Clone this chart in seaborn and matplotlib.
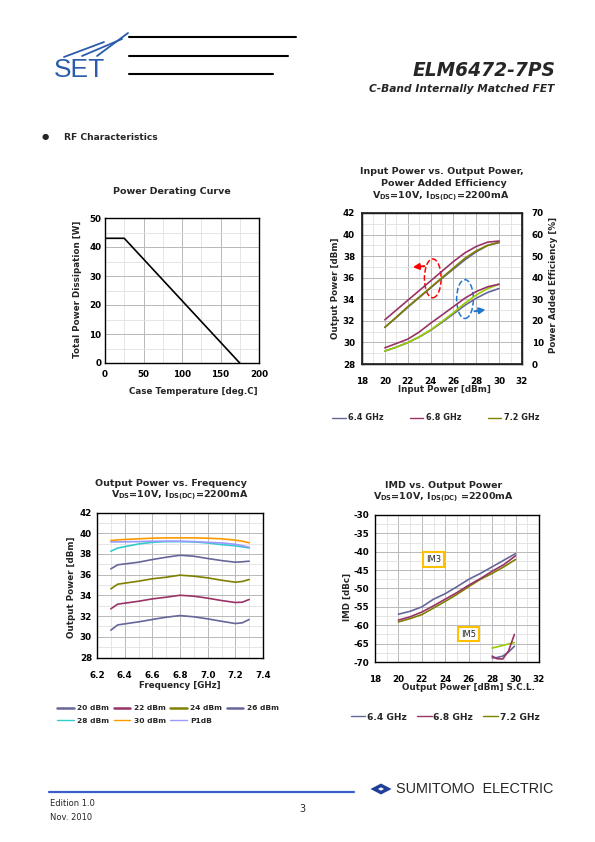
import matplotlib
matplotlib.use('Agg')
import numpy as np
import pandas as pd
import seaborn as sns
import matplotlib.pyplot as plt
from matplotlib.lines import Line2D
from matplotlib.patches import Ellipse, Polygon
from matplotlib.ticker import MultipleLocator, FormatStrFormatter

# power derating curve
case_temp = [0, 25, 175]
power_diss = [43, 43, 0]

# input power vs output power / PAE
pin = [20, 21, 22, 23, 24, 25, 26, 27, 28, 29, 30]
pout_64 = [31.4, 32.3, 33.25, 34.15, 35.05, 35.95, 36.8, 37.65, 38.4, 39.0, 39.25]
pout_68 = [32.1, 33.0, 33.9, 34.8, 35.7, 36.6, 37.5, 38.3, 38.9, 39.3, 39.4]
pout_72 = [31.4, 32.35, 33.3, 34.2, 35.1, 36.0, 36.9, 37.8, 38.5, 39.0, 39.3]
pae_64 = [6.0, 7.8, 9.9, 12.5, 15.6, 19.3, 23.2, 27.2, 30.5, 33.2, 35.0]
pae_68 = [7.5, 9.5, 11.5, 14.8, 18.9, 22.7, 26.6, 30.5, 33.6, 35.8, 37.0]
pae_72 = [6.0, 7.8, 9.9, 12.6, 15.8, 19.7, 23.8, 28.2, 32.0, 35.0, 37.0]

# output power vs frequency
freq = [6.30, 6.35, 6.50, 6.60, 6.70, 6.80, 6.90, 7.00, 7.10, 7.20, 7.25, 7.30]
level_names = ['20 dBm', '22 dBm', '24 dBm', '26 dBm', '28 dBm', '30 dBm', 'P1dB']
p_20 = [30.64, 31.15, 31.44, 31.67, 31.89, 32.05, 31.93, 31.73, 31.50, 31.28, 31.35, 31.67]
p_22 = [32.70, 33.15, 33.43, 33.66, 33.82, 34.01, 33.92, 33.73, 33.50, 33.31, 33.34, 33.60]
p_24 = [34.63, 35.08, 35.37, 35.60, 35.75, 35.95, 35.85, 35.69, 35.46, 35.27, 35.34, 35.53]
p_26 = [36.56, 36.95, 37.20, 37.46, 37.68, 37.87, 37.78, 37.56, 37.36, 37.20, 37.24, 37.30]
p_28 = [38.26, 38.57, 38.96, 39.12, 39.19, 39.19, 39.16, 39.06, 38.90, 38.78, 38.68, 38.58]
p_30 = [39.29, 39.36, 39.46, 39.52, 39.55, 39.55, 39.55, 39.52, 39.46, 39.33, 39.23, 39.07]
p_1db = [39.16, 39.16, 39.19, 39.23, 39.23, 39.23, 39.19, 39.12, 39.06, 38.93, 38.80, 38.64]

# IMD vs output power
im_pout = [20, 21, 22, 23, 24, 25, 26, 27, 28, 29, 30]
im3_64 = [-57.0, -56.2, -55.0, -52.9, -51.4, -49.5, -47.5, -45.9, -44.1, -42.3, -40.5]
im3_68 = [-58.6, -57.7, -56.4, -54.7, -52.9, -51.1, -49.1, -47.3, -45.3, -43.5, -41.1]
im3_72 = [-59.1, -58.2, -57.1, -55.3, -53.5, -51.6, -49.5, -47.5, -45.9, -44.1, -42.1]
im5_pout = [28.0, 28.4, 28.9, 29.4, 29.9]
im5_64 = [-68.9, -68.8, -68.4, -67.3, -65.7]
im5_68 = [-68.4, -69.1, -69.2, -67.0, -62.5]
im5_72 = [-66.2, -65.9, -65.5, -65.1, -64.7]

C64, C68, C72, C72B = '#666699', '#993366', '#808000', '#99cc00'
level_colors = {'20 dBm': '#666699', '22 dBm': '#993366', '24 dBm': '#808000',
                '26 dBm': '#666699', '28 dBm': '#33cccc', '30 dBm': '#ff9900',
                'P1dB': '#9999ff'}

sns.set_theme(style='white')
plt.rcParams.update({
    'font.family': ['DejaVu Sans'],
    'font.weight': 'bold',
    'axes.labelweight': 'bold',
    'axes.unicode_minus': False,
    'mathtext.fontset': 'dejavusans',
    'mathtext.default': 'bf',
})

W, H = 595, 842
fig = plt.figure(figsize=(5.95, 8.42), dpi=100)


def fx(x):
    return x / W


def fy(y):
    return 1 - y / H


def px_box(l, t, r, b):
    return [l / W, 1 - b / H, (r - l) / W, (b - t) / H]


def dress(ax, xmaj, xmin, ymaj, ymin, xpad, ypad):
    ax.xaxis.set_major_locator(MultipleLocator(xmaj))
    ax.xaxis.set_minor_locator(MultipleLocator(xmin))
    ax.yaxis.set_major_locator(MultipleLocator(ymaj))
    ax.yaxis.set_minor_locator(MultipleLocator(ymin))
    ax.grid(True, which='major', color='#b8b8b8', lw=0.7)
    ax.grid(True, which='minor', color='#e0e0e0', lw=0.6)
    ax.set_axisbelow(True)
    for sp in ax.spines.values():
        sp.set_visible(True)
        sp.set_color('black')
        sp.set_linewidth(1.0)
    ax.tick_params(which='both', length=0, labelsize=6.3, colors='black')
    ax.tick_params(axis='x', pad=xpad)
    ax.tick_params(axis='y', pad=ypad)


def put_label(axis, text, x, y, size=6.3):
    axis.set_label_text(text, fontsize=size, fontweight='bold')
    axis.set_label_coords(fx(x), fy(y), transform=fig.transFigure)
    axis.label.set_va('center')


def title_line(text, x, y, size=6.8):
    fig.text(fx(x), fy(y), text, ha='center', va='center', fontsize=size,
             fontweight='bold')


# ---------------- header ----------------
for (x0, x1, y) in [(129, 296, 37), (129, 288, 55.5), (129, 273, 74)]:
    fig.add_artist(Line2D([fx(x0), fx(x1)], [fy(y), fy(y)], color='black', lw=1.5))
fig.text(fx(54), fy(77), 'SET', fontsize=19, color='#2a5cab', fontweight='normal',
         family='Liberation Sans', ha='left', va='baseline')
# slanted strokes of the logo
for (x0, y0, x1, y1) in [(64, 57, 104, 42), (82, 56, 122, 39), (97, 56, 128, 33)]:
    fig.add_artist(Line2D([fx(x0), fx(x1)], [fy(y0), fy(y1)], color='#2a5cab', lw=1.3))
fig.text(fx(555), fy(71), 'ELM6472-7PS', fontsize=13.4, fontweight='bold',
         style='italic', ha='right', va='center')
fig.text(fx(554), fy(89), 'C-Band Internally Matched FET', fontsize=7.7,
         fontweight='bold', style='italic', ha='right', va='center')
fig.text(fx(45), fy(137), '\u25cf', fontsize=6, ha='center', va='center')
fig.text(fx(64), fy(137), 'RF Characteristics', fontsize=6.6, fontweight='bold',
         ha='left', va='center')

# ---------------- power derating ----------------
ax1 = fig.add_axes(px_box(105, 218, 259, 363))
sns.lineplot(x=case_temp, y=power_diss, color='black', lw=1.2, ax=ax1)
ax1.set_xlim(0, 200)
ax1.set_ylim(0, 50)
dress(ax1, 50, 25, 10, 5, 5, 2.5)
put_label(ax1.yaxis, 'Total Power Dissipation [W]', 78, 289)
put_label(ax1.xaxis, 'Case Temperature [deg.C]', 193, 392)
title_line('Power Derating Curve', 171.5, 192)

# ---------------- pin vs pout / pae ----------------
ax2 = fig.add_axes(px_box(362, 213, 522, 364))
for y, c in [(pout_64, C64), (pout_72, C72), (pout_68, C68)]:
    sns.lineplot(x=pin, y=y, color=c, lw=1.2, ax=ax2)
ax2.set_xlim(18, 32)
ax2.set_ylim(28, 42)
dress(ax2, 2, 1, 2, 1, 9, 5)
ax2r = ax2.twinx()
for y, c in [(pae_64, C64), (pae_72, C72B), (pae_68, C68)]:
    sns.lineplot(x=pin, y=y, color=c, lw=1.2, ax=ax2r)
ax2r.set_ylim(0, 70)
ax2r.yaxis.set_major_locator(MultipleLocator(10))
ax2r.tick_params(length=0, labelsize=6.3, pad=7, colors='black')
ax2r.grid(False)
put_label(ax2.yaxis, 'Output Power [dBm]', 335, 288)
put_label(ax2r.yaxis, 'Power Added Efficiency [%]', 553, 285)
put_label(ax2.xaxis, 'Input Power [dBm]', 444, 390)
title_line('Input Power vs. Output Power,', 442, 172)
title_line('Power Added Efficiency', 444, 183.5)
title_line('V$_{DS}$=10V, I$_{DS(DC)}$=2200mA', 441, 196)

ax2.add_patch(Ellipse((24.19, 35.94), 1.46, 3.6, fill=False, ec='red', ls='--', lw=1.1))
ax2.annotate('', xy=(22.2, 36.96), xytext=(23.7, 37.1),
             arrowprops=dict(arrowstyle='-|>', color='red', lw=1.4, mutation_scale=9))
ax2.add_patch(Ellipse((27.01, 34.02), 1.46, 3.6, fill=False, ec='#1f77d0', ls='--', lw=1.1))
ax2.annotate('', xy=(29.05, 33.07), xytext=(27.6, 32.85),
             arrowprops=dict(arrowstyle='-|>', color='#1f77d0', lw=1.4, mutation_scale=9))

h2 = [Line2D([], [], color=c, lw=1.0) for c in (C64, C68, C72)]
ax2.legend(h2, ['6.4 GHz', '6.8 GHz', '7.2 GHz'], ncol=3, loc='center',
           bbox_to_anchor=(fx(436), fy(418)), bbox_transform=fig.transFigure,
           frameon=False, fontsize=5.9, handlelength=1.6, handletextpad=0.35,
           columnspacing=3.2)

# ---------------- pout vs frequency ----------------
series = [p_20, p_22, p_24, p_26, p_28, p_30, p_1db]
freq_df = pd.DataFrame({
    'freq': freq * len(series),
    'pout': sum(series, []),
    'level': [n for n in level_names for _ in freq],
})
ax3 = fig.add_axes(px_box(97, 512.5, 263, 657.5))
sns.lineplot(data=freq_df, x='freq', y='pout', hue='level', hue_order=level_names,
             palette=level_colors, lw=1.2, legend=False, ax=ax3)
ax3.set_xlim(6.2, 7.4)
ax3.set_ylim(28, 42)
dress(ax3, 0.2, 0.1, 2, 1, 9.4, 3.6)
ax3.xaxis.set_major_formatter(FormatStrFormatter('%.1f'))
put_label(ax3.yaxis, 'Output Power [dBm]', 72, 587)
put_label(ax3.xaxis, 'Frequency [GHz]', 180, 685)
title_line('Output Power vs. Frequency', 171, 483.5)
title_line('V$_{DS}$=10V, I$_{DS(DC)}$=2200mA', 180, 495.5)

order = ['20 dBm', '28 dBm', '22 dBm', '30 dBm', '24 dBm', 'P1dB', '26 dBm']
h3 = [Line2D([], [], color=level_colors[n], lw=1.8 if n in level_names[:4] else 1.0)
      for n in order]
ax3.legend(h3, order, ncol=4, loc='center',
           bbox_to_anchor=(fx(168), fy(714.5)), bbox_transform=fig.transFigure,
           frameon=False, fontsize=5.4, handlelength=2.2, handletextpad=0.45,
           columnspacing=0.6, labelspacing=0.85)

# ---------------- IMD ----------------
ax4 = fig.add_axes(px_box(375, 515, 539, 662))
for y, c in [(im3_72, C72), (im3_68, C68), (im3_64, C64)]:
    sns.lineplot(x=im_pout, y=y, color=c, lw=1.2, ax=ax4)
for y, c in [(im5_72, C72B), (im5_64, C64), (im5_68, C68)]:
    sns.lineplot(x=im5_pout, y=y, color=c, lw=1.2, ax=ax4)
ax4.set_xlim(18, 32)
ax4.set_ylim(-70, -30)
dress(ax4, 2, 1, 5, 2.5, 9, 4.3)
put_label(ax4.yaxis, 'IMD [dBc]', 347, 597)
put_label(ax4.xaxis, 'Output Power [dBm] S.C.L.', 468, 688)
title_line('IMD vs. Output Power', 443.5, 485)
title_line('V$_{DS}$=10V, I$_{DS(DC)}$ =2200mA', 444, 497.5)
for txt, (x, y) in [('IM3', (23.0, -42.2)), ('IM5', (26.0, -62.4))]:
    ax4.text(x, y, txt, ha='center', va='center', fontsize=6, fontweight='normal',
             bbox=dict(boxstyle='square,pad=0.35', fc='white', ec='#ffc000', lw=1.5))

h4 = [Line2D([], [], color=c, lw=1.0) for c in (C64, C68, C72)]
ax4.legend(h4, ['6.4 GHz', '6.8 GHz', '7.2 GHz'], ncol=3, loc='center',
           bbox_to_anchor=(fx(445), fy(717)), bbox_transform=fig.transFigure,
           frameon=False, fontsize=6.6, handlelength=1.6, handletextpad=0.2,
           columnspacing=1.1)

# ---------------- footer ----------------
fig.add_artist(Line2D([fx(49), fx(354)], [fy(792), fy(792)], color='#3a5fcd', lw=1.6))
fig.text(fx(50), fy(804), 'Edition 1.0', fontsize=6, fontweight='normal', va='center')
fig.text(fx(50), fy(817.5), 'Nov. 2010', fontsize=6, fontweight='normal', va='center')
fig.text(fx(302), fy(808.5), '3', fontsize=7, fontweight='normal', ha='center', va='center')
fig.add_artist(Polygon([(fx(370.5), fy(789)), (fx(381), fy(783.5)), (fx(391.5), fy(789)),
                        (fx(381), fy(794.5))], closed=True, fc='#1f3f99', ec='none',
                       transform=fig.transFigure))
fig.add_artist(Polygon([(fx(378), fy(789)), (fx(381), fy(787.3)), (fx(384), fy(789)),
                        (fx(381), fy(790.7))], closed=True, fc='white', ec='none',
                       transform=fig.transFigure))
fig.text(fx(396), fy(789), 'SUMITOMO  ELECTRIC', fontsize=10.4, fontweight='normal',
         family='Liberation Sans', ha='left', va='center')

fig.savefig('out.png', dpi=100)
